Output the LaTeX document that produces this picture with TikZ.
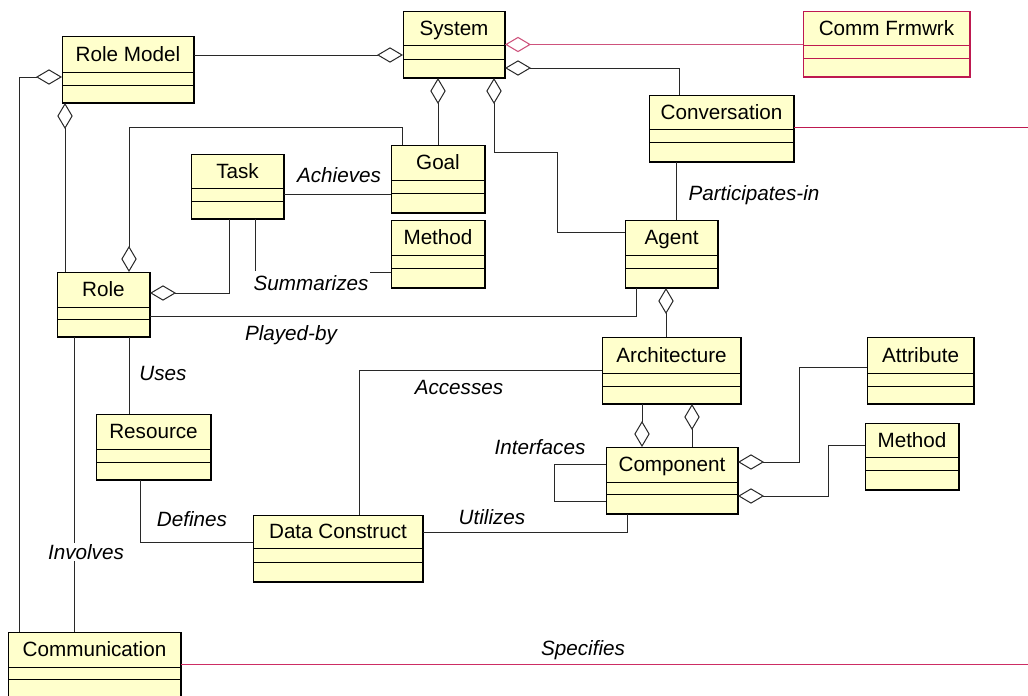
\documentclass[tikz,border=0pt]{standalone}
\usepackage{fontspec}
\setmainfont{Liberation Sans}
\usetikzlibrary{arrows.meta}
\definecolor{boxfill}{RGB}{255,255,204}
\definecolor{rosered}{RGB}{190,25,80}
\definecolor{redline}{RGB}{205,45,100}
\definecolor{linegray}{RGB}{40,40,40}
\tikzset{
  x=0.75pt, y=-0.75pt,
  classbox/.style={draw, fill=boxfill, inner sep=0pt, outer sep=0pt, line width=0.75pt, anchor=north west},
  classname/.style={font=\fontsize{15.5}{18}\selectfont, inner sep=0pt, text height=11.1pt, text depth=0pt},
  rel/.style={draw=linegray, line width=0.75pt},
  redrel/.style={draw=redline, line width=0.8pt},
  agg/.tip={Diamond[fill=white, length=19.5pt, width=11.5pt]},
  lbl/.style={font=\fontsize{15.5}{18}\selectfont\itshape, fill=white, inner sep=1pt, text height=11.1pt, text depth=0pt},
}
\newcommand\umlclass[9][black]{%
  \node[classbox, draw=#1, minimum width={(#4-#2)*0.75pt}, minimum height={(#5-#3)*0.75pt}] (#9) at (#2,#3) {};
  \draw[#1, line width=0.75pt] (#2,#6) -- (#4,#6) (#2,#7) -- (#4,#7);
  \draw[#1, line width=1.5pt] (#9.south west) -- (#9.south east) -- (#9.north east);
  \node[classname] (#9-t) at ({(#2+#4)/2},{(#3+#6)/2}) {#8};
}
\begin{document}
\begin{tikzpicture}
\useasboundingbox (0,0) rectangle (1028,696);
\clip (0,0) rectangle (1028,696);
\fill[white] (0,0) rectangle (1028,696);

% classes
\umlclass{62}{36}{194}{103}{72}{85}{Role Model}{RoleModel}
\umlclass{403}{11}{505}{78}{45}{59}{System}{System}
\umlclass[rosered]{803}{11}{970}{77}{45}{58}{Comm Frmwrk}{CommFrmwrk}
\umlclass{649}{95}{794}{162}{129}{142}{Conversation}{Conversation}
\umlclass{191}{154}{284}{219}{188}{201}{Task}{Task}
\umlclass{391}{145}{485}{213}{180}{193}{Goal}{Goal}
\umlclass{391}{220}{485}{288}{255}{268}{Method}{MethodA}
\umlclass{625}{220}{718}{288}{255}{268}{Agent}{Agent}
\umlclass{57}{272}{150}{337}{307}{319}{Role}{Role}
\umlclass{602}{337}{741}{404}{373}{386}{Architecture}{Architecture}
\umlclass{867}{337}{974}{404}{373}{386}{Attribute}{Attribute}
\umlclass{606}{447}{738}{514}{482}{494}{Component}{Component}
\umlclass{865}{423}{959}{490}{457}{470}{Method}{MethodB}
\umlclass{96}{414}{211}{480}{449}{462}{Resource}{Resource}
\umlclass{253}{515}{423}{582}{548}{562}{Data Construct}{DataConstruct}
\umlclass{8}{632}{181}{705}{667}{679}{Communication}{Communication}

\coordinate (convEnd) at (1028,127.5);
\coordinate (commEnd) at (1028,664.5);

% connectors
\draw[rel, -agg] (RoleModel.east |- 0,55) -- (System.west |- 0,55);
\draw[rel, agg-] (RoleModel.west |- 0,77) -| (Communication.north -| 19,0);
\draw[rel, agg-] (RoleModel.south -| 65,0) -- (Role.north -| 65,0);
\draw[rel, agg-] (System.south -| 438,0) -- (Goal.north -| 438,0);
\draw[rel, agg-] (System.south -| 494,0) -- (494,152) -- (557,152) |- (Agent.west |- 0,232);
\draw[redrel, draw=rosered!75, agg-] (System.east |- 0,44.5) -- (CommFrmwrk.west |- 0,44.5);
\draw[rel, agg-] (System.east |- 0,68) -| (Conversation.north -| 679,0);
\draw[redrel, draw=rosered, line width=1pt] (Conversation.east |- 0,127.5) -- (convEnd);
\draw[rel] (Conversation.south -| 676,0) -- (Agent.north -| 676,0);
\draw[rel, -agg] (Goal.north -| 402,0) |- (129,127) -- (Role.north -| 129,0);
\draw[rel] (Task.east |- 0,194) -- (Goal.west |- 0,194);
\draw[rel] (Task.south -| 255,0) |- (MethodA.west |- 0,272);
\draw[rel, -agg] (Task.south -| 229,0) |- (Role.east |- 0,293);
\draw[rel] (Role.east |- 0,316) -| (Agent.south -| 636,0);
\draw[rel, agg-] (Agent.south -| 666,0) -- (Architecture.north -| 666,0);
\draw[rel] (Role.south -| 129,0) -- (Resource.north -| 129,0);
\draw[rel] (Role.south -| 74,0) -- (Communication.north -| 74,0);
\draw[rel] (Resource.south -| 140,0) |- (DataConstruct.west |- 0,542);
\draw[rel] (DataConstruct.north -| 359,0) |- (Architecture.west |- 0,370);
\draw[rel] (DataConstruct.east |- 0,532) -| (Component.south -| 627,0);
\draw[rel, -agg] (Architecture.south -| 642,0) -- (Component.north -| 642,0);
\draw[rel, agg-] (Architecture.south -| 692,0) -- (Component.north -| 692,0);
\draw[rel] (Component.west |- 0,464) -- (554,464) -- (554,501) -- (Component.west |- 0,501);
\draw[rel, agg-] (Component.east |- 0,462) -- (799,462) |- (Attribute.west |- 0,367);
\draw[rel, agg-] (Component.east |- 0,496) -- (828,496) |- (MethodB.west |- 0,445);
\draw[redrel] (Communication.east |- 0,664.5) -- (commEnd);

% labels
\node[lbl] (lAchieves) at (339,175) {Achieves};
\node[lbl, inner ysep=3.2pt] (lSummarizes) at (311,283) {Summarizes};
\node[lbl] (lParticipates) at (754,193) {Participates-in};
\node[lbl] (lPlayed) at (291,333) {Played-by};
\node[lbl] (lUses) at (163,373) {Uses};
\node[lbl] (lAccesses) at (459,387) {Accesses};
\node[lbl] (lInterfaces) at (540,447) {Interfaces};
\node[lbl] (lUtilizes) at (492,517) {Utilizes};
\node[lbl] (lDefines) at (192,519) {Defines};
\node[lbl] (lInvolves) at (86,552) {Involves};
\node[lbl] (lSpecifies) at (583,648) {Specifies};
\end{tikzpicture}
\end{document}
